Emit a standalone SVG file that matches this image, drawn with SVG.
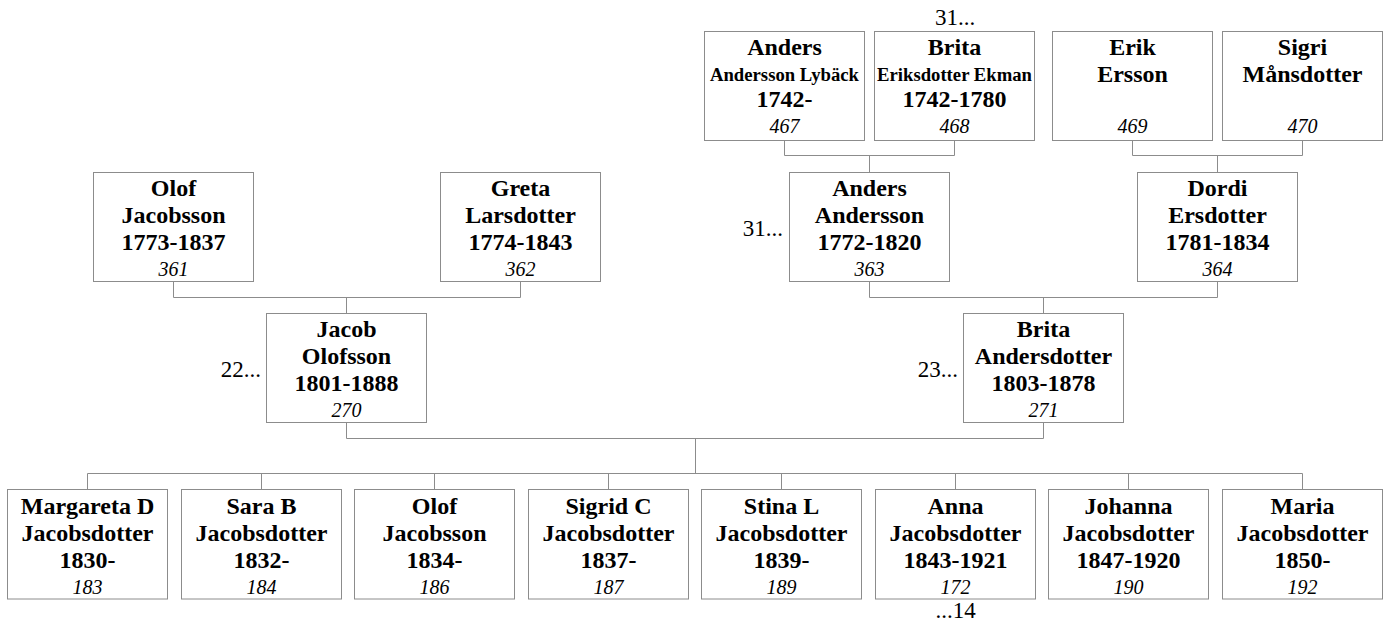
<svg xmlns="http://www.w3.org/2000/svg" width="1390" height="625" viewBox="0 0 1390 625">
<style>
  rect.box { fill: #ffffff; stroke: #8c8c8c; stroke-width: 1; }
  .conn path { fill: none; stroke: #8c8c8c; stroke-width: 1; }
  text { font-family: "Liberation Serif", "Times New Roman", serif; fill: #000000; }
  .n { font-size: 24px; font-weight: bold; text-anchor: middle; }
  .s { font-size: 18.7px; font-weight: bold; text-anchor: middle; }
  .id { font-size: 20px; font-style: italic; text-anchor: middle; }
  .m { font-size: 23px; }
</style>
<rect width="1390" height="625" fill="#ffffff"/>
<g class="conn" id="connectors">
  <path d="M784.5 140.5 V155.5 H954.5 V140.5 M869.5 155.5 V172.5"/>
  <path d="M1132.5 140.5 V155.5 H1302.5 V140.5 M1217.5 155.5 V172.5"/>
  <path d="M173.5 281.5 V297.5 H520.5 V281.5 M346.5 297.5 V313.5"/>
  <path d="M869.5 281.5 V297.5 H1217.5 V281.5 M1043.5 297.5 V313.5"/>
  <path d="M346.5 422.5 V438.5 H1043.5 V422.5 M695.5 438.5 V473.5"/>
  <path d="M87.5 489.5 V473.5 H1302.5 V489.5 M261.5 473.5 V489.5 M434.5 473.5 V489.5 M608.5 473.5 V489.5 M781.5 473.5 V489.5 M955.5 473.5 V489.5 M1128.5 473.5 V489.5"/>
</g>
<g id="p467"><rect class="box" x="704.5" y="31.5" width="160" height="109"/>
  <text class="n" x="784.5" y="55">Anders</text><text class="s" x="784.5" y="80.5">Andersson Lybäck</text><text class="n" x="784.5" y="107">1742-</text><text class="id" x="784.5" y="133">467</text></g>
<g id="p468"><rect class="box" x="874.5" y="31.5" width="160" height="109"/>
  <text class="n" x="954.5" y="55">Brita</text><text class="s" x="954.5" y="80.5">Eriksdotter Ekman</text><text class="n" x="954.5" y="107">1742-1780</text><text class="id" x="954.5" y="133">468</text></g>
<g id="p469"><rect class="box" x="1052.5" y="31.5" width="160" height="109"/>
  <text class="n" x="1132.5" y="55">Erik</text><text class="n" x="1132.5" y="81.5">Ersson</text><text class="id" x="1132.5" y="133">469</text></g>
<g id="p470"><rect class="box" x="1222.5" y="31.5" width="160" height="109"/>
  <text class="n" x="1302.5" y="55">Sigri</text><text class="n" x="1302.5" y="81.5">Månsdotter</text><text class="id" x="1302.5" y="133">470</text></g>

<g id="p361"><rect class="box" x="93.5" y="172.5" width="160" height="109"/>
  <text class="n" x="173.5" y="196">Olof</text><text class="n" x="173.5" y="223">Jacobsson</text><text class="n" x="173.5" y="250">1773-1837</text><text class="id" x="173.5" y="276">361</text></g>
<g id="p362"><rect class="box" x="440.5" y="172.5" width="160" height="109"/>
  <text class="n" x="520.5" y="196">Greta</text><text class="n" x="520.5" y="223">Larsdotter</text><text class="n" x="520.5" y="250">1774-1843</text><text class="id" x="520.5" y="276">362</text></g>
<g id="p363"><rect class="box" x="789.5" y="172.5" width="160" height="109"/>
  <text class="n" x="869.5" y="196">Anders</text><text class="n" x="869.5" y="223">Andersson</text><text class="n" x="869.5" y="250">1772-1820</text><text class="id" x="869.5" y="276">363</text></g>
<g id="p364"><rect class="box" x="1137.5" y="172.5" width="160" height="109"/>
  <text class="n" x="1217.5" y="196">Dordi</text><text class="n" x="1217.5" y="223">Ersdotter</text><text class="n" x="1217.5" y="250">1781-1834</text><text class="id" x="1217.5" y="276">364</text></g>

<g id="p270"><rect class="box" x="266.5" y="313.5" width="160" height="109"/>
  <text class="n" x="346.5" y="337">Jacob</text><text class="n" x="346.5" y="364">Olofsson</text><text class="n" x="346.5" y="391">1801-1888</text><text class="id" x="346.5" y="417">270</text></g>
<g id="p271"><rect class="box" x="963.5" y="313.5" width="160" height="109"/>
  <text class="n" x="1043.5" y="337">Brita</text><text class="n" x="1043.5" y="364">Andersdotter</text><text class="n" x="1043.5" y="391">1803-1878</text><text class="id" x="1043.5" y="417">271</text></g>

<g id="p183"><rect class="box" x="7.5" y="489.5" width="160" height="109.5"/>
  <text class="n" x="87.5" y="514">Margareta D</text><text class="n" x="87.5" y="541">Jacobsdotter</text><text class="n" x="87.5" y="568">1830-</text><text class="id" x="87.5" y="594">183</text></g>
<g id="p184"><rect class="box" x="181.5" y="489.5" width="160" height="109.5"/>
  <text class="n" x="261.5" y="514">Sara B</text><text class="n" x="261.5" y="541">Jacobsdotter</text><text class="n" x="261.5" y="568">1832-</text><text class="id" x="261.5" y="594">184</text></g>
<g id="p186"><rect class="box" x="354.5" y="489.5" width="160" height="109.5"/>
  <text class="n" x="434.5" y="514">Olof</text><text class="n" x="434.5" y="541">Jacobsson</text><text class="n" x="434.5" y="568">1834-</text><text class="id" x="434.5" y="594">186</text></g>
<g id="p187"><rect class="box" x="528.5" y="489.5" width="160" height="109.5"/>
  <text class="n" x="608.5" y="514">Sigrid C</text><text class="n" x="608.5" y="541">Jacobsdotter</text><text class="n" x="608.5" y="568">1837-</text><text class="id" x="608.5" y="594">187</text></g>
<g id="p189"><rect class="box" x="701.5" y="489.5" width="160" height="109.5"/>
  <text class="n" x="781.5" y="514">Stina L</text><text class="n" x="781.5" y="541">Jacobsdotter</text><text class="n" x="781.5" y="568">1839-</text><text class="id" x="781.5" y="594">189</text></g>
<g id="p172"><rect class="box" x="875.5" y="489.5" width="160" height="109.5"/>
  <text class="n" x="955.5" y="514">Anna</text><text class="n" x="955.5" y="541">Jacobsdotter</text><text class="n" x="955.5" y="568">1843-1921</text><text class="id" x="955.5" y="594">172</text></g>
<g id="p190"><rect class="box" x="1048.5" y="489.5" width="160" height="109.5"/>
  <text class="n" x="1128.5" y="514">Johanna</text><text class="n" x="1128.5" y="541">Jacobsdotter</text><text class="n" x="1128.5" y="568">1847-1920</text><text class="id" x="1128.5" y="594">190</text></g>
<g id="p192"><rect class="box" x="1222.5" y="489.5" width="160" height="109.5"/>
  <text class="n" x="1302.5" y="514">Maria</text><text class="n" x="1302.5" y="541">Jacobsdotter</text><text class="n" x="1302.5" y="568">1850-</text><text class="id" x="1302.5" y="594">192</text></g>

<g id="more-labels">
  <text class="m" x="955" y="25" text-anchor="middle">31...</text>
  <text class="m" x="783" y="236" text-anchor="end">31...</text>
  <text class="m" x="261" y="377" text-anchor="end">22...</text>
  <text class="m" x="958" y="377" text-anchor="end">23...</text>
  <text class="m" x="955.5" y="618" text-anchor="middle">...14</text>
</g>
</svg>
